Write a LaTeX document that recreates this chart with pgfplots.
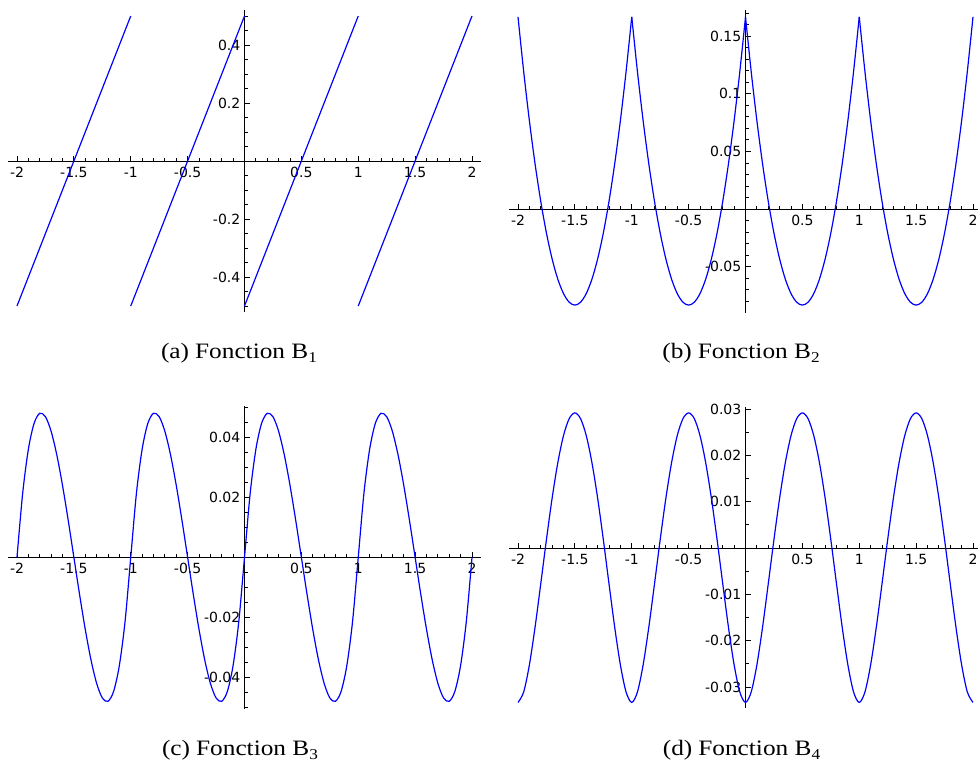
\documentclass[border=0pt]{standalone}
\usepackage{fontspec}
\usepackage{pgfplots}
\usepackage{pgfplotstable}
\pgfplotsset{compat=1.18}
\setmainfont{Liberation Serif}
\newfontfamily\dejavu{DejaVu Sans}
\newfontfamily\capfont[FakeStretch=1.15]{Liberation Serif}
\newcommand{\sub}[1]{\raisebox{-4.5pt}{\fontsize{15}{15}\selectfont #1}}

% Periodic Bernoulli functions B3 and B4 on [-2,2], sampled every 0.05
\pgfplotstableread{
x y
-2 0
-1.95 0.021375
-1.9 0.036
-1.85 0.044625
-1.8 0.048
-1.75 0.046875
-1.7 0.042
-1.65 0.034125
-1.6 0.024
-1.55 0.012375
-1.5 0
-1.45 -0.012375
-1.4 -0.024
-1.35 -0.034125
-1.3 -0.042
-1.25 -0.046875
-1.2 -0.048
-1.15 -0.044625
-1.1 -0.036
-1.05 -0.021375
-1 0
-0.95 0.021375
-0.9 0.036
-0.85 0.044625
-0.8 0.048
-0.75 0.046875
-0.7 0.042
-0.65 0.034125
-0.6 0.024
-0.55 0.012375
-0.5 0
-0.45 -0.012375
-0.4 -0.024
-0.35 -0.034125
-0.3 -0.042
-0.25 -0.046875
-0.2 -0.048
-0.15 -0.044625
-0.1 -0.036
-0.05 -0.021375
0 0
0.05 0.021375
0.1 0.036
0.15 0.044625
0.2 0.048
0.25 0.046875
0.3 0.042
0.35 0.034125
0.4 0.024
0.45 0.012375
0.5 0
0.55 -0.012375
0.6 -0.024
0.65 -0.034125
0.7 -0.042
0.75 -0.046875
0.8 -0.048
0.85 -0.044625
0.9 -0.036
0.95 -0.021375
1 0
1.05 0.021375
1.1 0.036
1.15 0.044625
1.2 0.048
1.25 0.046875
1.3 0.042
1.35 0.034125
1.4 0.024
1.45 0.012375
1.5 0
1.55 -0.012375
1.6 -0.024
1.65 -0.034125
1.7 -0.042
1.75 -0.046875
1.8 -0.048
1.85 -0.044625
1.9 -0.036
1.95 -0.021375
2 0
}\bthree

\pgfplotstableread{
x y
-2 -0.03333
-1.95 -0.03108
-1.9 -0.02523
-1.85 -0.01708
-1.8 -0.00773
-1.75 0.00182
-1.7 0.01077
-1.65 0.01842
-1.6 0.02427
-1.55 0.02792
-1.5 0.02917
-1.45 0.02792
-1.4 0.02427
-1.35 0.01842
-1.3 0.01077
-1.25 0.00182
-1.2 -0.00773
-1.15 -0.01708
-1.1 -0.02523
-1.05 -0.03108
-1 -0.03333
-0.95 -0.03108
-0.9 -0.02523
-0.85 -0.01708
-0.8 -0.00773
-0.75 0.00182
-0.7 0.01077
-0.65 0.01842
-0.6 0.02427
-0.55 0.02792
-0.5 0.02917
-0.45 0.02792
-0.4 0.02427
-0.35 0.01842
-0.3 0.01077
-0.25 0.00182
-0.2 -0.00773
-0.15 -0.01708
-0.1 -0.02523
-0.05 -0.03108
0 -0.03333
0.05 -0.03108
0.1 -0.02523
0.15 -0.01708
0.2 -0.00773
0.25 0.00182
0.3 0.01077
0.35 0.01842
0.4 0.02427
0.45 0.02792
0.5 0.02917
0.55 0.02792
0.6 0.02427
0.65 0.01842
0.7 0.01077
0.75 0.00182
0.8 -0.00773
0.85 -0.01708
0.9 -0.02523
0.95 -0.03108
1 -0.03333
1.05 -0.03108
1.1 -0.02523
1.15 -0.01708
1.2 -0.00773
1.25 0.00182
1.3 0.01077
1.35 0.01842
1.4 0.02427
1.45 0.02792
1.5 0.02917
1.55 0.02792
1.6 0.02427
1.65 0.01842
1.7 0.01077
1.75 0.00182
1.8 -0.00773
1.85 -0.01708
1.9 -0.02523
1.95 -0.03108
2 -0.03333
}\bfour

\pgfplotsset{
  bern/.style={blue, line width=1.2pt, mark=none},
  sageplot/.style={
    scale only axis,
    axis lines=middle,
    axis line style={-, black, line width=0.8pt},
    tick style={black, line width=0.8pt},
    tick align=inside,
    major tick length=5pt,
    minor tick length=3pt,
    scaled x ticks=false,
    scaled y ticks=false,
    xtick={-2,-1.5,-1,-0.5,0,0.5,1,1.5,2},
    xticklabels={-2,-1.5,-1,-0.5,,0.5,1,1.5,2},
    minor xtick={-1.9,-1.8,-1.7,-1.6,-1.4,-1.3,-1.2,-1.1,-0.9,-0.8,-0.7,-0.6,-0.4,-0.3,-0.2,-0.1,0.1,0.2,0.3,0.4,0.6,0.7,0.8,0.9,1.1,1.2,1.3,1.4,1.6,1.7,1.8,1.9},
    ticklabel style={font=\dejavu\fontsize{14}{14}\selectfont, black},
    xticklabel style={anchor=north, inner sep=0pt, yshift=-6pt},
    yticklabel style={anchor=east, inner sep=0pt, xshift=-4pt},
    xmin=-2.08,
  },
}

\begin{document}
\begin{tikzpicture}
\useasboundingbox (0pt,0pt) rectangle (979pt,-762pt);

% (a) B1: sawtooth
\begin{axis}[sageplot, at={(7.9pt,-311.8pt)}, anchor=south west,
  width=473.2pt, height=301.6pt, xmax=2.08, ymin=-0.52, ymax=0.52,
  ytick={-0.4,-0.2,0,0.2,0.4}, yticklabels={-0.4,-0.2,,0.2,0.4},
  minor ytick={-0.5,-0.45,-0.35,-0.3,-0.25,-0.15,-0.1,-0.05,0.05,0.1,0.15,0.25,0.3,0.35,0.45,0.5}]
\addplot[bern] coordinates {(-2,-0.5) (-1,0.5)};
\addplot[bern] coordinates {(-1,-0.5) (0,0.5)};
\addplot[bern] coordinates {(0,-0.5) (1,0.5)};
\addplot[bern] coordinates {(1,-0.5) (2,0.5)};
\end{axis}

% (b) B2: one parabola arc per period
\begin{axis}[sageplot, at={(508.9pt,-312.8pt)}, anchor=south west,
  width=468.65pt, height=302.9pt, xmax=2.04, ymin=-0.09, ymax=0.1727,
  ytick={-0.05,0,0.05,0.1,0.15}, yticklabels={-0.05,,0.05,0.1,0.15},
  minor ytick={-0.08,-0.07,-0.06,-0.04,-0.03,-0.02,-0.01,0.01,0.02,0.03,0.04,0.06,0.07,0.08,0.09,0.11,0.12,0.13,0.14,0.16,0.17}]
\addplot[bern, smooth] coordinates {(-2,0.16667)(-1.95,0.11917)(-1.9,0.07667)(-1.85,0.03917)(-1.8,0.00667)(-1.75,-0.02083)(-1.7,-0.04333)(-1.65,-0.06083)(-1.6,-0.07333)(-1.55,-0.08083)(-1.5,-0.08333)(-1.45,-0.08083)(-1.4,-0.07333)(-1.35,-0.06083)(-1.3,-0.04333)(-1.25,-0.02083)(-1.2,0.00667)(-1.15,0.03917)(-1.1,0.07667)(-1.05,0.11917)(-1,0.16667)};
\addplot[bern, smooth] coordinates {(-1,0.16667)(-0.95,0.11917)(-0.9,0.07667)(-0.85,0.03917)(-0.8,0.00667)(-0.75,-0.02083)(-0.7,-0.04333)(-0.65,-0.06083)(-0.6,-0.07333)(-0.55,-0.08083)(-0.5,-0.08333)(-0.45,-0.08083)(-0.4,-0.07333)(-0.35,-0.06083)(-0.3,-0.04333)(-0.25,-0.02083)(-0.2,0.00667)(-0.15,0.03917)(-0.1,0.07667)(-0.05,0.11917)(0,0.16667)};
\addplot[bern, smooth] coordinates {(0,0.16667)(0.05,0.11917)(0.1,0.07667)(0.15,0.03917)(0.2,0.00667)(0.25,-0.02083)(0.3,-0.04333)(0.35,-0.06083)(0.4,-0.07333)(0.45,-0.08083)(0.5,-0.08333)(0.55,-0.08083)(0.6,-0.07333)(0.65,-0.06083)(0.7,-0.04333)(0.75,-0.02083)(0.8,0.00667)(0.85,0.03917)(0.9,0.07667)(0.95,0.11917)(1,0.16667)};
\addplot[bern, smooth] coordinates {(1,0.16667)(1.05,0.11917)(1.1,0.07667)(1.15,0.03917)(1.2,0.00667)(1.25,-0.02083)(1.3,-0.04333)(1.35,-0.06083)(1.4,-0.07333)(1.45,-0.08083)(1.5,-0.08333)(1.55,-0.08083)(1.6,-0.07333)(1.65,-0.06083)(1.7,-0.04333)(1.75,-0.02083)(1.8,0.00667)(1.85,0.03917)(1.9,0.07667)(1.95,0.11917)(2,0.16667)};
\end{axis}

% (c) B3
\begin{axis}[sageplot, at={(7.9pt,-708.8pt)}, anchor=south west,
  width=473.2pt, height=303pt, xmax=2.08, ymin=-0.0505, ymax=0.0505,
  ytick={-0.04,-0.02,0,0.02,0.04}, yticklabels={-0.04,-0.02,,0.02,0.04},
  minor ytick={-0.05,-0.045,-0.035,-0.03,-0.025,-0.015,-0.01,-0.005,0.005,0.01,0.015,0.025,0.03,0.035,0.045,0.05}]
\addplot[bern, smooth] table[x=x, y=y] {\bthree};
\end{axis}

% (d) B4
\begin{axis}[sageplot, at={(508.9pt,-708.3pt)}, anchor=south west,
  width=468.65pt, height=301.6pt, xmax=2.04, ymin=-0.0346, ymax=0.0305,
  ytick={-0.03,-0.02,-0.01,0,0.01,0.02,0.03}, yticklabels={-0.03,-0.02,-0.01,,0.01,0.02,0.03},
  minor ytick={-0.025,-0.015,-0.005,0.005,0.015,0.025}]
\addplot[bern, smooth] table[x=x, y=y] {\bfour};
\end{axis}

% sub-captions
\begin{scope}[every node/.style={anchor=base, inner sep=0pt, font=\capfont\fontsize{22}{22}\selectfont}]
\node at (239pt,-358pt) {(a)\hspace{6pt}Fonction B\sub{1}};
\node at (741pt,-358pt) {(b)\hspace{6pt}Fonction B\sub{2}};
\node at (240pt,-755pt) {(c)\hspace{6pt}Fonction B\sub{3}};
\node at (741.5pt,-755pt) {(d)\hspace{6pt}Fonction B\sub{4}};
\end{scope}
\end{tikzpicture}
\end{document}
